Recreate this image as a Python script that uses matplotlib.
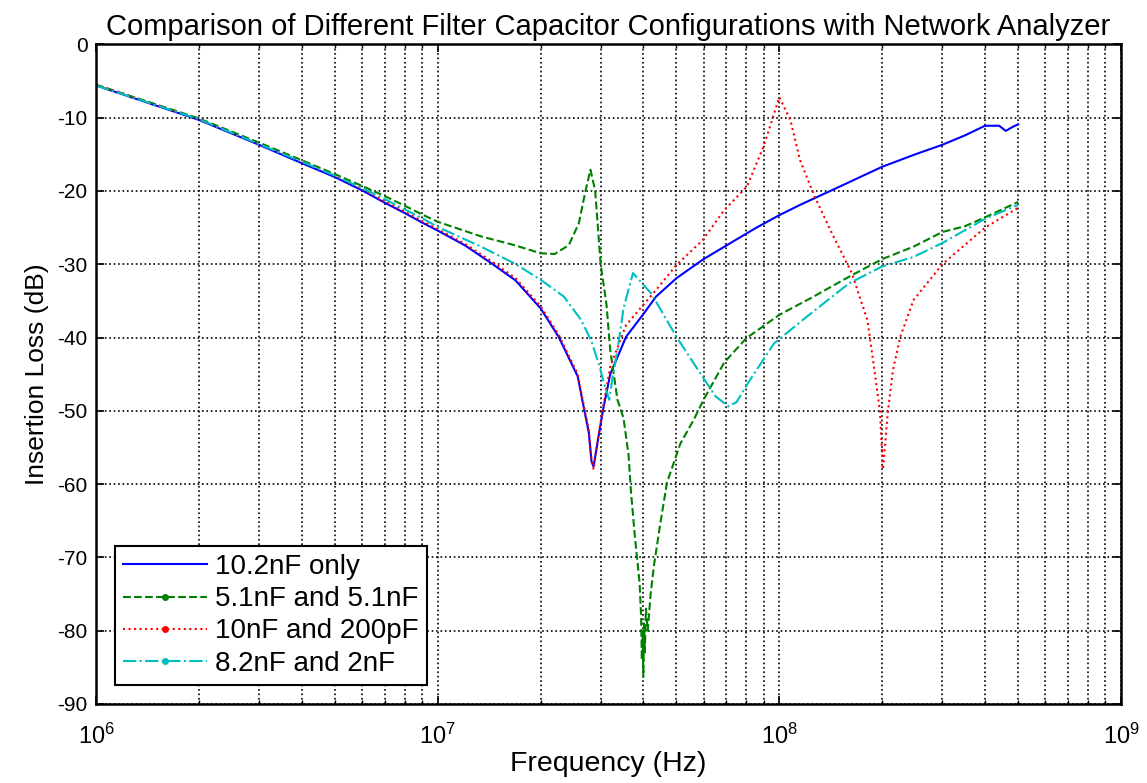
import numpy as np
import matplotlib
matplotlib.use('Agg')
import matplotlib.pyplot as plt
from matplotlib.lines import Line2D

plt.rcParams['font.family'] = ['Liberation Sans', 'DejaVu Sans']
plt.rcParams['mathtext.fontset'] = 'custom'
plt.rcParams['mathtext.rm'] = 'Liberation Sans'
plt.rcParams['axes.unicode_minus'] = False

# 10.2nF only
f_blue = [1e6, 2e6, 3e6, 4e6, 5e6, 6e6, 7e6, 8e6, 9e6, 1e7, 1.2e7, 1.44e7, 1.69e7, 2e7,
          2.26e7, 2.57e7, 2.65e7, 2.77e7, 2.82e7, 2.86e7, 2.94e7, 3.05e7, 3.2e7, 3.56e7,
          4e7, 4.36e7, 5e7, 6e7, 7.2e7, 8.5e7, 1e8, 1.15e8, 1.44e8, 2e8, 2.5e8, 3e8, 3.5e8,
          4e8, 4.4e8, 4.6e8, 4.8e8, 5e8]
db_blue = [-5.6, -10.3, -13.7, -16.2, -18.1, -19.9, -21.6, -23.0, -24.3, -25.4, -27.4, -29.9,
           -32.2, -36.0, -39.9, -45.3, -48.5, -53.0, -56.9, -57.6, -54.2, -49.8, -45.0, -39.9,
           -36.8, -34.4, -31.9, -29.3, -27.1, -25.1, -23.3, -21.9, -19.8, -16.7, -15.0, -13.7,
           -12.4, -11.1, -11.1, -11.8, -11.3, -10.9]

# 5.1nF and 5.1nF
f_green = [1e6, 2e6, 3e6, 4e6, 5e6, 6e6, 7e6, 8e6, 9e6, 1e7, 1.34e7, 1.68e7, 2e7, 2.2e7,
           2.42e7, 2.59e7, 2.7e7, 2.8e7, 2.89e7, 3e7, 3.12e7, 3.2e7, 3.36e7, 3.5e7, 3.62e7,
           3.68e7, 3.77e7, 3.9e7, 3.94e7, 3.96e7, 3.98e7, 4.0e7, 4.02e7, 4.04e7, 4.07e7,
           4.12e7, 4.2e7, 4.3e7, 4.48e7, 4.69e7, 5.13e7, 5.62e7, 6e7, 6.9e7, 8e7, 1e8,
           1.25e8, 1.6e8, 2e8, 2.47e8, 3e8, 3.5e8, 4e8, 5e8]
db_green = [-5.5, -10.1, -13.4, -15.8, -17.7, -19.3, -20.7, -22.0, -23.2, -24.2, -26.2, -27.4,
            -28.5, -28.6, -27.4, -24.4, -20.3, -17.1, -19.9, -30.0, -35.5, -41.7, -48.5, -51.0,
            -56.0, -61.0, -66.7, -73.5, -78.0, -84.0, -80.0, -86.3, -79.0, -83.0, -77.0, -80.0,
            -75.0, -71.0, -65.5, -59.8, -54.5, -51.2, -48.5, -43.4, -40.1, -36.9, -34.5, -31.7,
            -29.3, -27.6, -25.6, -24.8, -23.6, -21.5]

# 10nF and 200pF
f_red = [1e6, 2e6, 3e6, 4e6, 5e6, 6e6, 7e6, 8e6, 9e6, 1e7, 1.2e7, 1.44e7, 1.69e7, 2e7,
         2.26e7, 2.57e7, 2.65e7, 2.77e7, 2.82e7, 2.86e7, 2.94e7, 3.05e7, 3.2e7, 3.56e7,
         4.36e7, 5e7, 5.97e7, 6.9e7, 8.04e7, 8.98e7, 9.5e7, 1e8, 1.077e8, 1.15e8, 1.27e8,
         1.44e8, 1.63e8, 1.81e8, 1.88e8, 1.97e8, 2.01e8, 2.08e8, 2.15e8, 2.26e8, 2.47e8,
         3e8, 4e8, 5e8]
db_red = [-5.5, -10.2, -13.6, -16.0, -17.9, -19.7, -21.4, -22.8, -24.1, -25.2, -27.2, -29.6,
          -31.9, -35.7, -39.6, -45.0, -48.2, -52.7, -56.6, -58.0, -54.0, -49.5, -44.0, -38.3,
          -33.5, -30.1, -26.7, -22.6, -19.4, -14.0, -10.5, -7.2, -10.3, -15.8, -20.8, -26.2,
          -31.2, -37.6, -43.0, -50.0, -58.0, -50.0, -44.5, -39.9, -34.9, -30.0, -25.0, -22.3]

# 8.2nF and 2nF
f_cyan = [1e6, 2e6, 3e6, 4e6, 5e6, 6e6, 7e6, 8e6, 9e6, 1e7, 1.34e7, 1.68e7, 2e7, 2.34e7,
          2.63e7, 2.82e7, 2.98e7, 3.08e7, 3.18e7, 3.25e7, 3.36e7, 3.5e7, 3.73e7, 4.22e7,
          5e7, 5.95e7, 6.5e7, 7.1e7, 7.5e7, 8.1e7, 9.65e7, 1.2e8, 1.6e8, 2e8,
          2.47e8, 3e8, 4e8, 5e8]
db_cyan = [-5.6, -10.2, -13.6, -16.0, -17.9, -19.6, -21.1, -22.5, -23.7, -24.9, -27.6, -29.9,
           -32.1, -34.4, -37.6, -40.5, -44.0, -46.5, -48.5, -45.5, -41.7, -36.0, -31.2, -34.0,
           -39.9, -45.3, -48.0, -49.4, -48.8, -46.2, -40.8, -37.2, -32.6, -30.3, -29.0,
           -27.1, -23.8, -21.9]

labels = ['10.2nF only', '5.1nF and 5.1nF', '10nF and 200pF', '8.2nF and 2nF']
colors = ['#0000ff', '#008000', '#ff0000', '#00bfbf']
styles = ['-', '--', ':', '-.']

fig = plt.figure(figsize=(11.47, 7.83), dpi=100)
ax = fig.add_axes([0.0837, 0.1009, 0.8936, 0.8424])

series = [(f_blue, db_blue), (f_green, db_green), (f_red, db_red), (f_cyan, db_cyan)]
for (f, d), c, ls in zip(series, colors, styles):
    ax.plot(f, d, color=c, linestyle=ls, linewidth=1.5)

ax.set_xscale('log')
ax.set_xlim(1e6, 1e9)
ax.set_ylim(-90, 0)
ax.set_yticks(np.arange(-90, 1, 10))

ax.grid(True, which='major', color='black', linestyle=':', linewidth=1.2)
ax.grid(True, which='minor', axis='x', color='black', linestyle=':', linewidth=1.2)
ax.tick_params(which='both', direction='in', top=True, right=True, labelsize=15, pad=6)
ax.tick_params(axis='x', which='major', labelsize=17, pad=14)
ax.tick_params(which='major', length=6, width=1.2)
ax.tick_params(which='minor', length=3, width=1.0)
for s in ax.spines.values():
    s.set_linewidth(1.8)

ax.set_title('Comparison of Different Filter Capacitor Configurations with Network Analyzer',
             fontsize=21, pad=7)
ax.set_xlabel('Frequency (Hz)', fontsize=20.5, labelpad=2)
ax.set_ylabel('Insertion Loss (dB)', fontsize=19, labelpad=6)

handles = [Line2D([], [], color=colors[0], linestyle='-', linewidth=1.5)]
for c, ls in zip(colors[1:], styles[1:]):
    handles.append(Line2D([], [], color=c, linestyle=ls, linewidth=1.5,
                          marker='.', markersize=8))
leg = ax.legend(handles, labels, loc='lower left', bbox_to_anchor=(0.0185, 0.029),
                borderaxespad=0, fontsize=20, handlelength=3.0, handletextpad=0.3,
                labelspacing=0.22, borderpad=0.3, fancybox=False, framealpha=1,
                edgecolor='black', numpoints=1)
leg.get_frame().set_linewidth(1.5)

plt.savefig('out.png', dpi=100)
